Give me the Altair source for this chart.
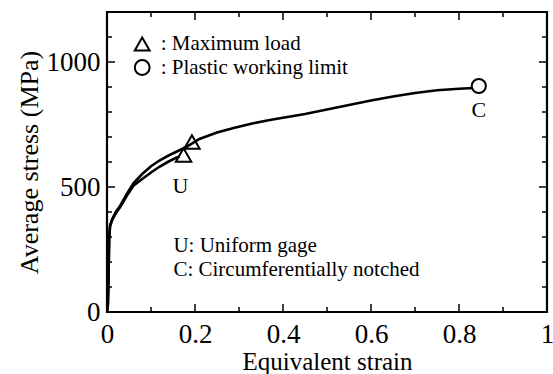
import altair as alt
import pandas as pd

# Uniform gage specimen (U)
u_strain = [0, 0.002, 0.003, 0.004, 0.005, 0.007, 0.012, 0.02, 0.03, 0.045, 0.06, 0.08, 0.10, 0.12, 0.14, 0.155, 0.165]
u_stress = [0, 30, 100, 200, 300, 345, 370, 395, 420, 465, 505, 532, 558, 582, 602, 615, 622]

# Circumferentially notched specimen (C)
c_strain = [0, 0.002, 0.003, 0.004, 0.005, 0.007, 0.012, 0.02, 0.03, 0.045, 0.06, 0.08, 0.10, 0.12, 0.14, 0.16, 0.18,
            0.21, 0.25, 0.29, 0.33, 0.37, 0.41, 0.45, 0.50, 0.55, 0.60, 0.65, 0.70, 0.75, 0.80, 0.845]
c_stress = [0, 30, 100, 200, 300, 345, 372, 400, 425, 472, 515, 552, 583, 607, 626, 643, 660,
            692, 718, 737, 754, 768, 780, 792, 810, 828, 846, 862, 876, 887, 893, 897]

# Markers
max_load_strain = [0.174, 0.193]
max_load_stress = [628, 680]
limit_strain = [0.845]
limit_stress = [904]

# Legend entries
legend_symbols = ["triangle-up", "circle"]
legend_labels = [": Maximum load", ": Plastic working limit"]
legend_x = [0.08, 0.08]
legend_text_x = [0.122, 0.122]
legend_y = [1072, 978]

# Curve labels
curve_labels = ["U", "C"]
curve_label_x = [0.167, 0.845]
curve_label_y = [505, 808]

# Note text
note_lines = ["U: Uniform gage", "C: Circumferentially notched"]
note_x = [0.151, 0.151]
note_y = [263, 170]

# Ticks
x_major = [0, 0.2, 0.4, 0.6, 0.8, 1.0]
x_minor = [0.1, 0.3, 0.5, 0.7, 0.9]
y_major = [0, 500, 1000]
y_minor = [100, 200, 300, 400, 600, 700, 800, 900, 1100]

W, H = 440, 300
FONT = "Liberation Serif, Times New Roman, Times, serif"

xs = alt.Scale(domain=[0, 1], nice=False, zero=False)
ys = alt.Scale(domain=[0, 1200], nice=False, zero=False)

curves = pd.DataFrame(
    {"strain": u_strain + c_strain,
     "stress": u_stress + c_stress,
     "spec": ["U"] * len(u_strain) + ["C"] * len(c_strain),
     "order": list(range(len(u_strain))) + list(range(len(c_strain)))}
)

xaxis = alt.Axis(values=x_major, ticks=False, domain=False, grid=False, labelFont=FONT, labelFontSize=27,
                 labelColor="black", labelBaseline="alphabetic", labelPadding=30, labelFlush=False,
                 title="Equivalent strain", titleFont=FONT, titleFontSize=25, titleFontWeight="normal",
                 titleColor="black", titleBaseline="alphabetic", titleY=57,
                 labelExpr="format(datum.value, '~g')")
yaxis = alt.Axis(values=y_major, ticks=False, domain=False, grid=False, labelFont=FONT, labelFontSize=27,
                 labelColor="black", labelPadding=7, labelFlush=False,
                 labelExpr="format(datum.value, 'd')",
                 title="Average stress (MPa)", titleFont=FONT, titleFontSize=26, titleFontWeight="normal",
                 titleColor="black", titleAngle=270, titleBaseline="bottom", titleX=-65, titleY=150,
                 titleAlign="center")

lines = alt.Chart(curves).mark_line(color="black", strokeWidth=2.6, clip=True).encode(
    x=alt.X("strain:Q", scale=xs, axis=xaxis),
    y=alt.Y("stress:Q", scale=ys, axis=yaxis),
    detail="spec:N",
    order="order:Q",
)

tri = alt.Chart(pd.DataFrame({"x": max_load_strain, "y": max_load_stress})).mark_point(
    shape="triangle-up", size=240, filled=False, color="black", strokeWidth=2, opacity=1
).encode(x=alt.X("x:Q", scale=xs), y=alt.Y("y:Q", scale=ys))

circ = alt.Chart(pd.DataFrame({"x": limit_strain, "y": limit_stress})).mark_point(
    shape="circle", size=200, filled=True, fill="white", stroke="black", strokeWidth=2, opacity=1
).encode(x=alt.X("x:Q", scale=xs), y=alt.Y("y:Q", scale=ys))

leg_df = pd.DataFrame({"x": legend_x, "tx": legend_text_x, "y": legend_y,
                       "shape": legend_symbols, "label": legend_labels})
leg_sym = alt.Chart(leg_df).mark_point(size=220, filled=False, color="black", strokeWidth=2, opacity=1).encode(
    x=alt.X("x:Q", scale=xs), y=alt.Y("y:Q", scale=ys),
    shape=alt.Shape("shape:N", scale=None),
)
leg_txt = alt.Chart(leg_df).mark_text(align="left", baseline="middle", font=FONT, fontSize=21, color="black").encode(
    x=alt.X("tx:Q", scale=xs), y=alt.Y("y:Q", scale=ys), text="label:N"
)

lab_txt = alt.Chart(pd.DataFrame({"x": curve_label_x, "y": curve_label_y, "t": curve_labels})).mark_text(
    align="center", baseline="middle", font=FONT, fontSize=22, color="black"
).encode(x=alt.X("x:Q", scale=xs), y=alt.Y("y:Q", scale=ys), text="t:N")

note_txt = alt.Chart(pd.DataFrame({"x": note_x, "y": note_y, "t": note_lines})).mark_text(
    align="left", baseline="middle", font=FONT, fontSize=21, color="black"
).encode(x=alt.X("x:Q", scale=xs), y=alt.Y("y:Q", scale=ys), text="t:N")

MAJ, MIN = 8, 5

def xticks(vals, length):
    df = pd.DataFrame({"v": vals})
    bot = alt.Chart(df).mark_rule(color="black", strokeWidth=1.5).encode(
        x=alt.X("v:Q", scale=xs), y=alt.value(H), y2=alt.value(H - length))
    top = alt.Chart(df).mark_rule(color="black", strokeWidth=1.5).encode(
        x=alt.X("v:Q", scale=xs), y=alt.value(0), y2=alt.value(length))
    return [bot, top]

def yticks(vals, length):
    df = pd.DataFrame({"v": vals})
    left = alt.Chart(df).mark_rule(color="black", strokeWidth=1.5).encode(
        y=alt.Y("v:Q", scale=ys), x=alt.value(0), x2=alt.value(length))
    right = alt.Chart(df).mark_rule(color="black", strokeWidth=1.5).encode(
        y=alt.Y("v:Q", scale=ys), x=alt.value(W), x2=alt.value(W - length))
    return [left, right]

tick_layers = xticks(x_major, MAJ) + xticks(x_minor, MIN) + yticks(y_major, MAJ) + yticks(y_minor, MIN)

chart = alt.layer(
    lines, *tick_layers, tri, circ, leg_sym, leg_txt, lab_txt, note_txt
).properties(
    width=W, height=H,
    autosize=alt.AutoSizeParams(type="none"),
    padding={"left": 107, "top": 12, "right": 6, "bottom": 62},
    background="white",
).configure_view(stroke="black", strokeWidth=2.2)

chart.save("out.html", embed_options={"renderer": "svg", "actions": False})
